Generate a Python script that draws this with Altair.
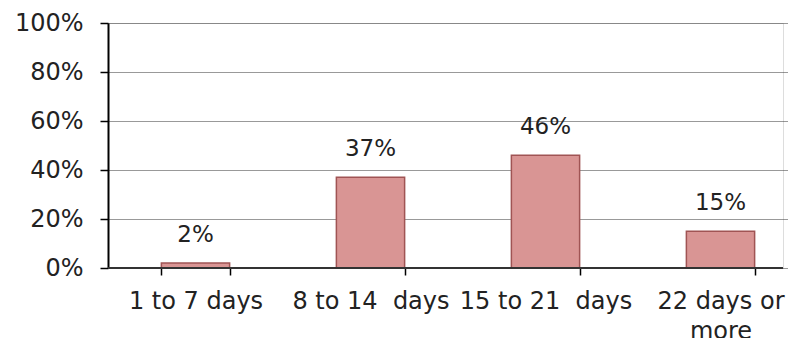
import altair as alt
import pandas as pd

categories = ["1 to 7 days", "8 to 14\u00a0 days", "15 to 21\u00a0 days", "22 days or more"]
values = [2, 37, 46, 15]
y_ticks = [0, 20, 40, 60, 80, 100]

df = pd.DataFrame({"cat": categories, "val": values, "lbl": [f"{v}%" for v in values]})

FONT = "DejaVu Sans"

x_enc = alt.X(
    "cat:N",
    sort=categories,
    scale=alt.Scale(range=[0, 700], paddingInner=0.61, paddingOuter=0.305),
    axis=alt.Axis(
        title=None,
        domain=False,
        tickBand="extent",
        tickSize=7,
        tickColor="#000000",
        tickWidth=1.5,
        labelAngle=0,
        labelFont=FONT,
        labelFontSize=24,
        labelColor="#222222",
        labelPadding=14,
        labelLimit=400,
        labelLineHeight=30,
        labelExpr="datum.value == '22 days or more' ? ['22 days or', 'more'] : datum.label",
    ),
)

y_enc = alt.Y(
    "val:Q",
    scale=alt.Scale(domain=[0, 100], nice=False),
    axis=alt.Axis(
        title=None,
        values=y_ticks,
        labelExpr="datum.value + '%'",
        labelFont=FONT,
        labelFontSize=24,
        labelColor="#222222",
        labelPadding=17,
        tickSize=8,
        tickColor="#000000",
        tickWidth=1.5,
        domainColor="#000000",
        domainWidth=2,
        grid=True,
        gridColor="#333333",
        gridDash=[1, 1],
        gridWidth=1,
    ),
)

base = alt.Chart(df)

bars = base.mark_bar(
    fill="#d99594", stroke="#a05454", strokeWidth=1.5
).encode(x=x_enc, y=y_enc)

labels = base.mark_text(
    font=FONT, fontSize=23, color="#222222", baseline="alphabetic", dy=-21
).encode(x=alt.X("cat:N", sort=categories), y="val:Q", text="lbl:N")

zero_line = alt.Chart(pd.DataFrame({"z": [0]})).mark_rule(
    color="#333333", strokeWidth=2
).encode(x=alt.value(0), x2=alt.value(675), y=alt.Y("z:Q"))

chart = alt.layer(bars, labels, zero_line).properties(
    width=675,
    height=245,
    autosize=alt.AutoSizeParams(type="none"),
    padding={"left": 108, "top": 23, "right": 5, "bottom": 70},
).configure_view(stroke=None).configure(background="white")

chart.save("out.html", embed_options={"renderer": "svg", "actions": False})
